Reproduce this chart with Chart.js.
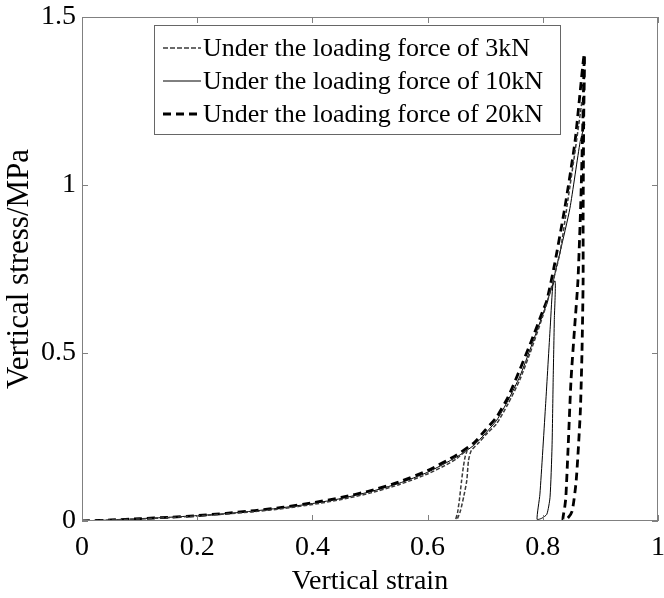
<!DOCTYPE html>
<html>
<head>
<meta charset="utf-8">
<script src="https://cdn.jsdelivr.net/npm/chart.js@4.4.1/dist/chart.umd.min.js"></script>
<style>
  html, body { margin: 0; padding: 0; background: #fff; }
  #wrap { width: 664px; height: 598px; }
</style>
</head>
<body>
<div id="wrap"><canvas id="chart" width="664" height="598"></canvas></div>
<script>
// values (strain, stress in MPa)
const seriesLabels = [
    'Under the loading force of 3kN',
    'Under the loading force of 10kN',
    'Under the loading force of 20kN'
];

const strain3kN = [0, 0.05, 0.1, 0.15, 0.2, 0.25, 0.3, 0.35, 0.4, 0.45, 0.5, 0.55, 0.6, 0.63, 0.65, 0.668,
    0.665, 0.662, 0.659, 0.655, 0.652, 0.649,
    0.652, 0.657, 0.663, 0.668, 0.671, 0.676,
    0.69, 0.7, 0.72, 0.74, 0.76, 0.78, 0.8, 0.8125, 0.83, 0.844, 0.856, 0.868];
const stress3kN = [0, 0.003, 0.006, 0.010, 0.015, 0.021, 0.028, 0.037, 0.049, 0.064, 0.083, 0.108, 0.140, 0.165, 0.185, 0.21,
    0.19, 0.16, 0.12, 0.06, 0.025, 0.005,
    0.008, 0.03, 0.075, 0.12, 0.18, 0.21,
    0.235, 0.255, 0.29, 0.35, 0.42, 0.51, 0.61, 0.68, 0.80, 0.96, 1.10, 1.25];

const strain10kN = [0, 0.05, 0.1, 0.15, 0.2, 0.25, 0.3, 0.35, 0.4, 0.45, 0.5, 0.55, 0.6, 0.65, 0.68, 0.7, 0.72, 0.74, 0.76, 0.78, 0.8, 0.821,
    0.820, 0.818, 0.816, 0.8125, 0.807, 0.798, 0.790,
    0.795, 0.805, 0.813, 0.818,
    0.83, 0.847, 0.865, 0.873];
const stress10kN = [0, 0.003, 0.007, 0.011, 0.016, 0.022, 0.030, 0.040, 0.052, 0.067, 0.087, 0.112, 0.145, 0.19, 0.225, 0.26, 0.30, 0.36, 0.43, 0.52, 0.615, 0.715,
    0.60, 0.42, 0.22, 0.07, 0.02, 0.008, 0.005,
    0.08, 0.35, 0.58, 0.71,
    0.80, 0.93, 1.13, 1.18];

const strain20kN = [0, 0.05, 0.1, 0.15, 0.2, 0.25, 0.3, 0.35, 0.4, 0.45, 0.5, 0.55, 0.6, 0.65, 0.68, 0.7, 0.72, 0.74, 0.76, 0.78, 0.8, 0.807, 0.82, 0.838, 0.856, 0.872,
    0.871, 0.870, 0.870, 0.868, 0.865, 0.858, 0.851, 0.843, 0.835,
    0.838, 0.840, 0.844, 0.849, 0.855, 0.861, 0.866, 0.869, 0.872];
const stress20kN = [0, 0.003, 0.007, 0.011, 0.016, 0.023, 0.031, 0.041, 0.054, 0.070, 0.090, 0.116, 0.150, 0.196, 0.232, 0.27, 0.31, 0.37, 0.45, 0.535, 0.625, 0.656, 0.76, 0.93, 1.13, 1.39,
    1.2, 0.9, 0.715, 0.5, 0.32, 0.12, 0.03, 0.008, 0.003,
    0.04, 0.07, 0.22, 0.42, 0.57, 0.715, 0.95, 1.15, 1.39];

const xTicks = [0, 0.2, 0.4, 0.6, 0.8, 1];
const yTicks = [0, 0.5, 1, 1.5];

const serif = '"Liberation Serif", "Times New Roman", serif';
const frameColor = '#808080';

function toPoints(xs, ys) {
    return xs.map((x, i) => ({ x: x, y: ys[i] }));
}

// box round the plot, ticks pointing inward on all four sides, legend in the top
const framePlugin = {
    id: 'frame',
    afterDatasetsDraw(chart) {
        const { ctx, chartArea: a, scales } = chart;
        const len = 6;
        ctx.save();
        ctx.strokeStyle = frameColor;
        ctx.lineWidth = 1;
        ctx.strokeRect(a.left + 0.5, a.top + 0.5, a.right - a.left - 1, a.bottom - a.top - 1);
        ctx.beginPath();
        xTicks.forEach(v => {
            const px = Math.round(scales.x.getPixelForValue(v)) + 0.5;
            ctx.moveTo(px, a.bottom); ctx.lineTo(px, a.bottom - len);
            ctx.moveTo(px, a.top); ctx.lineTo(px, a.top + len);
        });
        yTicks.forEach(v => {
            const py = Math.round(scales.y.getPixelForValue(v)) + 0.5;
            ctx.moveTo(a.left, py); ctx.lineTo(a.left + len, py);
            ctx.moveTo(a.right, py); ctx.lineTo(a.right - len, py);
        });
        ctx.stroke();

        // legend
        const bx = 154, by = 25, bw = 406, bh = 109;
        ctx.fillStyle = '#fff';
        ctx.fillRect(bx, by, bw, bh);
        ctx.strokeStyle = '#666';
        ctx.strokeRect(bx + 0.5, by + 0.5, bw, bh);
        ctx.font = '26px ' + serif;
        ctx.textBaseline = 'middle';
        chart.data.datasets.forEach((ds, i) => {
            const y = by + 22 + i * 33;
            ctx.beginPath();
            ctx.strokeStyle = ds.borderColor;
            ctx.lineWidth = ds.borderWidth;
            ctx.setLineDash(ds.legendDash);
            ctx.moveTo(bx + 9, y + 1);
            ctx.lineTo(bx + 47, y + 1);
            ctx.stroke();
            ctx.setLineDash([]);
            ctx.fillStyle = '#000';
            ctx.fillText(ds.label, bx + 49, y + 2);
        });
        ctx.restore();
    }
};

const datasets = [
    {
        label: seriesLabels[0],
        data: toPoints(strain3kN, stress3kN),
        borderColor: '#3a3a3a',
        borderWidth: 1.5,
        borderDash: [4, 2],
        legendDash: [5, 2]
    },
    {
        label: seriesLabels[1],
        data: toPoints(strain10kN, stress10kN),
        borderColor: '#000',
        borderWidth: 1,
        borderDash: [],
        legendDash: []
    },
    {
        label: seriesLabels[2],
        data: toPoints(strain20kN, stress20kN),
        borderColor: '#000',
        borderWidth: 2.8,
        borderDash: [8, 5],
        legendDash: [8, 5]
    }
];

new Chart(document.getElementById('chart'), {
    type: 'scatter',
    data: { datasets: datasets },
    options: {
        responsive: false,
        animation: false,
        showLine: true,
        layout: { autoPadding: false, padding: { left: 0, right: 6, top: 17, bottom: 0 } },
        elements: {
            point: { radius: 0, hoverRadius: 0 },
            line: { tension: 0.2, fill: false }
        },
        plugins: {
            legend: { display: false },
            tooltip: { enabled: false }
        },
        scales: {
            x: {
                type: 'linear',
                min: 0,
                max: 1,
                afterBuildTicks: s => { s.ticks = xTicks.map(v => ({ value: v })); },
                afterFit: s => { s.height = 77; s.paddingLeft = 0; s.paddingRight = 0; },
                grid: { display: false, drawTicks: false },
                border: { display: false },
                ticks: {
                    color: '#000',
                    padding: 10,
                    maxRotation: 0,
                    font: { family: serif, size: 28 },
                    callback: v => String(v)
                },
                title: {
                    display: true,
                    text: 'Vertical strain',
                    color: '#000',
                    padding: { top: 4, bottom: 0 },
                    font: { family: serif, size: 28 }
                }
            },
            y: {
                type: 'linear',
                min: 0,
                max: 1.5,
                afterBuildTicks: s => { s.ticks = yTicks.map(v => ({ value: v })); },
                afterFit: s => { s.width = 82; s.paddingTop = 0; s.paddingBottom = 0; },
                grid: { display: false, drawTicks: false },
                border: { display: false },
                ticks: {
                    color: '#000',
                    padding: 6,
                    font: { family: serif, size: 28 },
                    callback: v => String(v)
                },
                title: {
                    display: true,
                    text: 'Vertical stress/MPa',
                    color: '#000',
                    padding: { top: 1, bottom: 0 },
                    font: { family: serif, size: 31 }
                }
            }
        }
    },
    plugins: [framePlugin]
});
</script>
</body>
</html>
